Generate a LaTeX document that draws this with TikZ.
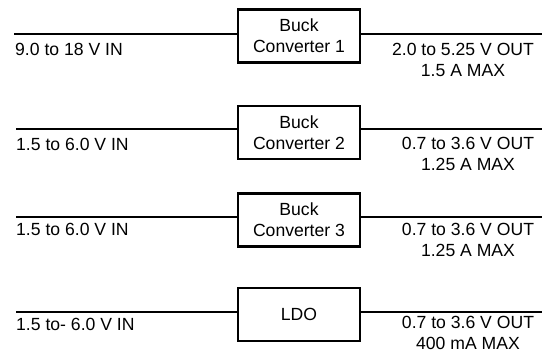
\documentclass[tikz,border=0pt]{standalone}
\usepackage{fontspec}
\setmainfont{Liberation Sans}
\usetikzlibrary{positioning}

\begin{document}
\begin{tikzpicture}[
    x=1pt, y=-1pt,
    conv/.style={draw, line width=2.8pt, minimum width=122pt, minimum height=53pt, align=center, inner sep=0pt, font=\fontsize{17.6}{21}\selectfont},
    rail/.style={line width=2.8pt},
    vin/.style={anchor=north west, inner sep=0pt, font=\fontsize{17.6}{21}\selectfont},
    vout/.style={anchor=north, align=center, inner sep=0pt, font=\fontsize{17.6}{21}\selectfont}
]
\useasboundingbox (0,0) rectangle (542,353);

% Converters
\node[conv] (buck1) at (299,36) {Buck\\Converter 1};
\node[conv] (buck2) at (299,132.5) {Buck\\Converter 2};
\node[conv] (buck3) at (299,220) {Buck\\Converter 3};
\node[conv] (ldo) at (299,314.5) {LDO};

% Rail ends
\coordinate (in1) at (14,34);
\coordinate (in2) at (16,129);
\coordinate (in3) at (16,217);
\coordinate (in4) at (16,312);
\coordinate (out1) at (542,34);
\coordinate (out2) at (542,129);
\coordinate (out3) at (542,217);
\coordinate (out4) at (542,312);

% Rails
\draw[rail] (in1) -- (in1 -| buck1.west);
\draw[rail] (buck1.east |- out1) -- (out1);
\draw[rail] (in2) -- (in2 -| buck2.west);
\draw[rail] (buck2.east |- out2) -- (out2);
\draw[rail] (in3) -- (in3 -| buck3.west);
\draw[rail] (buck3.east |- out3) -- (out3);
\draw[rail] (in4) -- (in4 -| ldo.west);
\draw[rail] (ldo.east |- out4) -- (out4);

% Input labels
\node[vin] (vin1) at (15,43) {9.0 to 18 V IN};
\node[vin] (vin2) at (16,138) {1.5 to 6.0 V IN};
\node[vin] (vin3) at (16,223) {1.5 to 6.0 V IN};
\node[vin] (vin4) at (16,318) {1.5 to- 6.0 V IN};

% Output labels
\node[vout] (vout1) at (463,43) {2.0 to 5.25 V OUT\\1.5 A MAX};
\node[vout] (vout2) at (468,137) {0.7 to 3.6 V OUT\\1.25 A MAX};
\node[vout] (vout3) at (468,223) {0.7 to 3.6 V OUT\\1.25 A MAX};
\node[vout] (vout4) at (468,316) {0.7 to 3.6 V OUT\\400 mA MAX};

\end{tikzpicture}
\end{document}
